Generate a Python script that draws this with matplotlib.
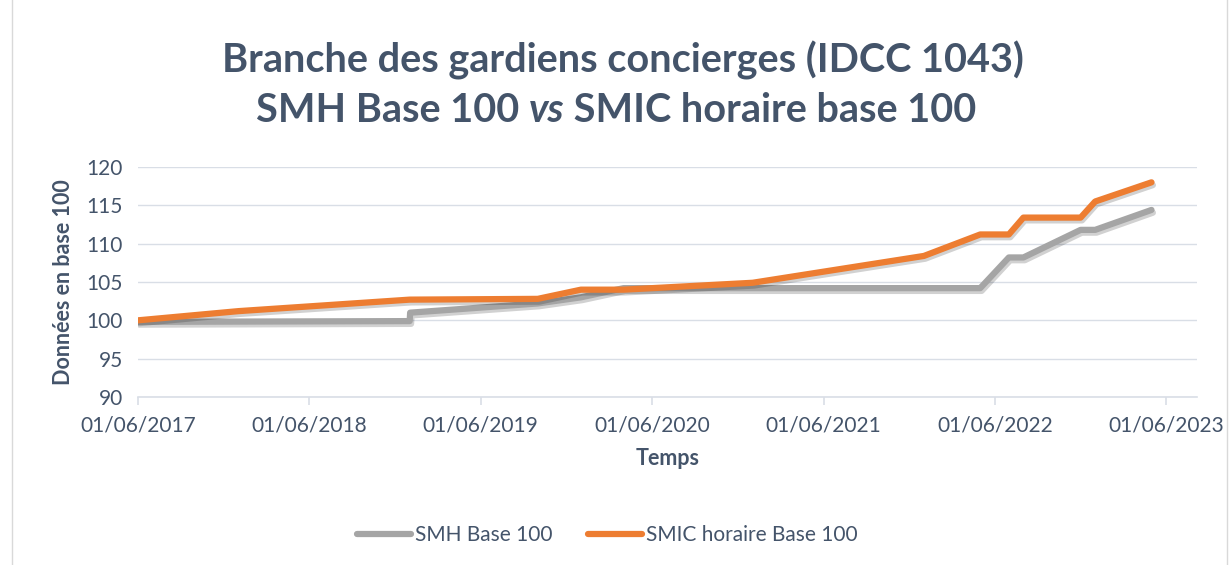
import matplotlib
matplotlib.use('Agg')
import matplotlib.pyplot as plt
import matplotlib.dates as mdates
import matplotlib.patheffects as pe
from matplotlib.lines import Line2D
import pandas as pd

# données
smh_dates = ['2017-06-01', '2019-01-01', '2019-01-02', '2019-10-01', '2020-01-01',
             '2020-04-01', '2022-05-01', '2022-07-01', '2022-08-01', '2022-12-01',
             '2023-01-01', '2023-05-01']
smh_values = [99.8, 99.9, 101.0, 102.2, 103.0, 104.2, 104.2, 108.2, 108.2, 111.8,
              111.8, 114.4]

smic_dates = ['2017-06-01', '2018-01-01', '2019-01-01', '2019-10-01', '2020-01-01',
              '2020-04-01', '2020-06-01', '2021-01-01', '2022-01-01', '2022-05-01',
              '2022-07-01', '2022-08-01', '2022-12-01', '2023-01-01', '2023-05-01']
smic_values = [100.0, 101.2, 102.7, 102.8, 104.0, 104.0, 104.2, 104.9, 108.4, 111.2,
               111.2, 113.4, 113.4, 115.5, 118.0]

tick_dates = ['2017-06-01', '2018-06-01', '2019-06-01', '2020-06-01', '2021-06-01',
              '2022-06-01', '2023-06-01']
y_ticks = [90, 95, 100, 105, 110, 115, 120]

txt = '#44546A'
grey = '#A5A5A5'
orange = '#ED7D31'
font = 'Lato'

fig = plt.figure(figsize=(12.32, 5.65), dpi=100)
ax = fig.add_axes([138/1232, 1 - 397/565, (1197-138)/1232, (397-167)/565])

shadow = [pe.SimpleLineShadow(offset=(1, -2), shadow_color='k', alpha=0.18), pe.Normal()]
ax.plot(pd.to_datetime(smh_dates), smh_values, color=grey, lw=4.5,
        solid_capstyle='round', solid_joinstyle='round', path_effects=shadow)
ax.plot(pd.to_datetime(smic_dates), smic_values, color=orange, lw=4.5,
        solid_capstyle='round', solid_joinstyle='round', path_effects=shadow)

ax.set_xlim(pd.Timestamp('2017-06-01'), pd.Timestamp('2023-08-06'))
ax.set_ylim(90, 120)
ax.set_yticks(y_ticks)
ax.set_xticks(pd.to_datetime(tick_dates))
ax.xaxis.set_major_formatter(mdates.DateFormatter('%d/%m/%Y'))
ax.grid(axis='y', color='#D9DEE6', lw=1)
ax.set_axisbelow(True)
for s in ['top', 'right', 'left']:
    ax.spines[s].set_visible(False)
ax.spines['bottom'].set_color('#D9DEE6')
ax.spines['bottom'].set_linewidth(1.2)
ax.tick_params(axis='y', length=0, pad=11, labelsize=15, labelcolor=txt)
ax.tick_params(axis='x', length=6, width=1.2, color='#D9DEE6', pad=7,
               labelsize=15, labelcolor=txt)
for lab in ax.get_xticklabels() + ax.get_yticklabels():
    lab.set_fontfamily(font)

ax.set_xlabel('Temps', fontsize=15.5, fontweight='bold', color=txt, family=font, labelpad=9)
ax.set_ylabel('Données en base 100', fontsize=15.5, fontweight='bold', color=txt,
              family=font, labelpad=9)

# titre
fig.text(0.506, 1 - 60/565, 'Branche des gardiens concierges (IDCC 1043)', ha='center',
         va='center', fontsize=28.5, fontweight='bold', color=txt, family=font)
parts = [('SMH Base 100 ', 'normal'), ('vs', 'italic'), (' SMIC horaire base 100', 'normal')]
objs = [fig.text(0, 1 - 110/565, p, va='center', fontsize=28.5, fontweight='bold',
                 fontstyle=st, color=txt, family=font) for p, st in parts]
fig.canvas.draw()
r = fig.canvas.get_renderer()
widths = [o.get_window_extent(r).width for o in objs]
x0 = 0.5 * 1232 - sum(widths) / 2
for o, w in zip(objs, widths):
    o.set_x(x0 / 1232)
    x0 += w

handles = [Line2D([], [], color=grey, lw=4.5, solid_capstyle='round'),
           Line2D([], [], color=orange, lw=4.5, solid_capstyle='round')]
leg = fig.legend(handles, ['SMH Base 100', 'SMIC horaire Base 100'], loc='center',
                 bbox_to_anchor=(0.493, 1 - 535/565), ncol=2, frameon=False,
                 prop={'family': font, 'size': 15}, handlelength=2.6, handletextpad=0.2,
                 columnspacing=1.7)
for t in leg.get_texts():
    t.set_color(txt)

fig.patches.append(plt.Rectangle((12/1232, -0.01), (1227-12)/1232, 1.02, transform=fig.transFigure,
                                 fill=False, edgecolor='#D9D9D9', lw=1))

fig.savefig('out.png', dpi=100)
